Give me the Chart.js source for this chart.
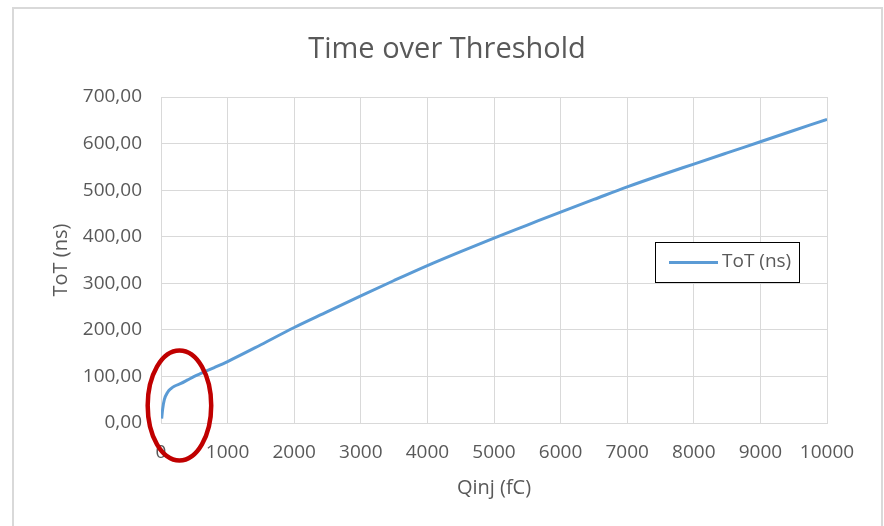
<!DOCTYPE html>
<html>
<head>
<meta charset="utf-8">
<script src="https://cdn.jsdelivr.net/npm/chart.js@4.4.0/dist/chart.umd.min.js"></script>
<style>
  html, body { margin: 0; padding: 0; background: #fff; }
  #wrap { position: relative; width: 884px; height: 526px; overflow: hidden; }
  #frame { position: absolute; left: 12px; top: 7px; width: 867px; height: 600px;
           border: 2px solid #d9d9d9; border-bottom: none; pointer-events: none; }
  canvas { position: absolute; left: 0; top: 0; }
</style>
</head>
<body>
<div id="wrap">
  <canvas id="chart" width="884" height="526"></canvas>
  <div id="frame"></div>
</div>
<script>
// data
const qinj = [10, 25, 50, 100, 150, 200, 300, 400, 500, 600, 800, 1000, 1500, 2000, 2500,
  3000, 3500, 4000, 4500, 5000, 5500, 6000, 6500, 7000, 7500, 8000, 8500, 9000, 9500, 10000];
const tot = [9.5, 30, 50, 66, 74, 79, 85, 92.5, 100, 106.5, 119, 132, 168, 205, 239,
  273, 306, 338, 368, 397, 425, 453, 480, 507, 532, 556, 580, 604, 628, 652];
const seriesLabel = 'ToT (ns)';
const chartTitle = 'Time over Threshold';
const xTicksMax = 10000;
const yTicksMax = 700;

// red ellipse around the low-charge region (data units)
const circleAt = { x: 277, y: 37.7, rx: 477, ry: 118 };

const textColor = '#595959';
const lineColor = '#5b9bd5';

const points = qinj.map((q, i) => ({ x: q, y: tot[i] }));

const extras = {
  id: 'extras',
  afterDraw(chart) {
    const { ctx, chartArea, scales } = chart;
    ctx.save();
    // title, centred on the whole frame
    ctx.fillStyle = textColor;
    ctx.font = '29px "Open Sans"';
    ctx.textAlign = 'center';
    ctx.textBaseline = 'middle';
    ctx.fillText(chartTitle, 447, 50);

    // legend box inside the plot
    const w = 144, h = 40;
    const bx = chartArea.right - 28 - w, by = chartArea.top + 145;
    ctx.fillStyle = '#fff';
    ctx.fillRect(bx, by, w, h);
    ctx.strokeStyle = '#000';
    ctx.lineWidth = 1;
    ctx.strokeRect(bx + 0.5, by + 0.5, w, h);
    ctx.strokeStyle = lineColor;
    ctx.lineWidth = 3;
    ctx.beginPath();
    ctx.moveTo(bx + 14, by + 20.5);
    ctx.lineTo(bx + 63, by + 20.5);
    ctx.stroke();
    ctx.fillStyle = textColor;
    ctx.font = '19px "Open Sans"';
    ctx.textAlign = 'left';
    ctx.fillText(seriesLabel, bx + 67, by + 20);

    // annotation ellipse
    const cx = scales.x.getPixelForValue(circleAt.x);
    const cy = scales.y.getPixelForValue(circleAt.y);
    const rx = scales.x.getPixelForValue(circleAt.x + circleAt.rx) - cx;
    const ry = cy - scales.y.getPixelForValue(circleAt.y + circleAt.ry);
    ctx.strokeStyle = '#c00000';
    ctx.lineWidth = 4.5;
    ctx.beginPath();
    ctx.ellipse(cx, cy, rx, ry, 0, 0, Math.PI * 2);
    ctx.stroke();
    ctx.restore();
  }
};

new Chart(document.getElementById('chart'), {
  type: 'line',
  data: {
    datasets: [{
      label: seriesLabel,
      data: points,
      borderColor: lineColor,
      borderWidth: 3,
      pointRadius: 0,
      cubicInterpolationMode: 'monotone',
      fill: false
    }]
  },
  options: {
    responsive: false,
    animation: false,
    layout: { padding: { left: 0, right: 57, top: 97, bottom: 0 } },
    plugins: {
      legend: { display: false },
      tooltip: { enabled: false },
      title: { display: false }
    },
    scales: {
      x: {
        type: 'linear',
        min: 0,
        max: xTicksMax,
        ticks: { stepSize: 1000, color: textColor, font: { family: 'Open Sans', size: 19 }, padding: 18,
                 maxRotation: 0, callback: v => String(v) },
        grid: { color: '#d9d9d9', drawTicks: false },
        border: { color: '#d9d9d9' },
        title: { display: true, text: 'Qinj (fC)', color: textColor,
                 font: { family: 'Open Sans', size: 20 }, padding: { bottom: 26 } },
        afterFit(s) { s.height = 103; }
      },
      y: {
        min: 0,
        max: yTicksMax,
        ticks: { stepSize: 100, color: textColor, font: { family: 'Open Sans', size: 19 }, padding: 19,
                 callback: v => v.toFixed(2).replace('.', ',') },
        grid: { color: '#d9d9d9', drawTicks: false },
        border: { color: '#d9d9d9' },
        title: { display: true, text: 'ToT (ns)', color: textColor,
                 font: { family: 'Open Sans', size: 20 }, padding: { top: 49 } },
        afterFit(s) { s.width = 161; }
      }
    }
  },
  plugins: [extras]
});
</script>
</body>
</html>
